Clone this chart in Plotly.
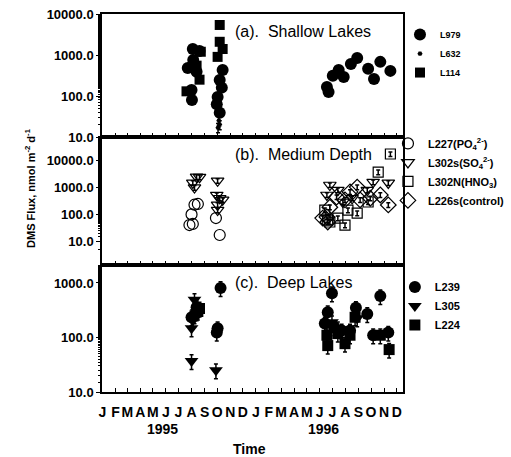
import plotly.graph_objects as go
from plotly.subplots import make_subplots

# ---- (a) Shallow lakes ----
l979_dates = ["1995-07-23", "1995-08-01", "1995-08-02", "1995-08-04", "1995-08-13", "1995-08-20", "1995-08-05",
              "1995-09-30", "1995-10-02", "1995-10-07", "1995-10-07", "1995-10-12", "1995-10-14",
              "1996-06-18", "1996-06-22", "1996-07-02", "1996-07-16", "1996-07-28", "1996-08-14",
              "1996-08-29", "1996-09-24", "1996-10-08", "1996-10-23", "1996-11-16"]
l979_flux = [480, 140, 80, 1400, 390, 1250, 760,
             63, 95, 245, 39, 160, 430,
             166, 125, 310, 430, 290, 600,
             850, 460, 260, 680, 410]

l632_dates = ["1995-10-03", "1995-10-05", "1995-10-07"]
l632_flux = [17, 25, 20]

l114_dates = ["1995-07-20", "1995-08-13", "1995-08-20", "1995-08-23",
              "1995-10-02", "1995-10-07", "1995-10-07", "1995-10-14"]
l114_flux = [130, 550, 250, 1200, 900, 5400, 2100, 1400]

# ---- (b) Medium depth ----
l227_dates = ["1995-07-27", "1995-08-01", "1995-08-04", "1995-08-08", "1995-08-16", "1995-09-28", "1995-10-07"]
l227_flux = [40, 100, 44, 230, 245, 73, 17]

l302s_dates = ["1995-08-04", "1995-08-08", "1995-08-13", "1995-08-20", "1995-09-30", "1995-10-02",
               "1995-10-02", "1995-10-02", "1995-10-07", "1995-10-14",
               "1996-06-18", "1996-06-25", "1996-07-14", "1996-07-26", "1996-08-17", "1996-09-22",
               "1996-10-06", "1996-11-11"]
l302s_flux = [1500, 1000, 2500, 2450, 520, 1800, 225, 145, 400, 350,
              530, 1250, 800, 290, 400, 800, 1600, 1500]

l302n_dates = ["1996-06-13", "1996-06-20", "1996-06-25", "1996-07-14", "1996-07-31", "1996-08-07",
               "1996-08-29", "1996-09-24", "1996-10-18", "1996-11-16"]
l302n_flux = [145, 61, 52, 73, 40, 145, 112, 290, 3800, 18000]

l226s_dates = ["1996-06-08", "1996-06-18", "1996-06-20", "1996-06-25", "1996-07-11", "1996-07-31",
               "1996-08-12", "1996-08-29", "1996-09-05", "1996-09-29", "1996-10-23", "1996-11-11"]
l226s_flux = [73, 80, 52, 185, 445, 350, 690, 1050, 350, 400, 530, 225]

# ---- (c) Deep lakes ----
l239_dates = ["1995-08-01", "1995-08-08", "1995-08-13", "1995-09-30", "1995-10-02", "1995-10-09",
              "1996-06-13", "1996-06-20", "1996-06-30", "1996-07-06", "1996-07-23", "1996-08-12",
              "1996-08-26", "1996-09-22", "1996-10-06", "1996-10-23", "1996-11-11"]
l239_flux = [235, 255, 360, 123, 148, 810,
             180, 290, 650, 153, 134, 134, 350, 270, 110, 575, 123]

l305_dates = ["1995-08-01", "1995-08-01", "1995-08-04", "1995-08-08", "1995-08-13", "1995-09-28",
              "1996-06-30", "1996-07-14", "1996-08-29"]
l305_flux = [148, 37, 205, 490, 290, 25, 190, 148, 225]

l224_dates = ["1995-08-16", "1995-08-20",
              "1996-06-18", "1996-06-20", "1996-07-14", "1996-07-31", "1996-08-12", "1996-08-24",
              "1996-10-23", "1996-11-13"]
l224_flux = [300, 340, 110, 71, 118, 77, 110, 235, 110, 60]

month_ticks = [f"{y}-{m:02d}-01" for y in (1995, 1996) for m in range(1, 13)]
month_letters = list("JFMAMJJASOND") * 2
year_labels = ["1995", "1996"]
year_pos = ["1995-05-25", "1996-06-10"]

FONT = "Liberation Sans, Arial, sans-serif"

fig = make_subplots(rows=3, cols=1, shared_xaxes=True, vertical_spacing=0,
                    row_heights=[123, 128, 127])


def err(pct):
    return dict(type="percent", value=pct, color="black", thickness=1.5, width=2)


def add(dates, flux, name, symbol, size, row, legend, filled=True, error=None):
    marker = dict(symbol=symbol, size=size, color="black",
                  line=dict(color="black", width=1.2 if not filled else 0))
    fig.add_trace(go.Scatter(x=dates, y=flux, mode="markers", name=name, marker=marker,
                             error_y=error, legend=legend, showlegend=True),
                  row=row, col=1)


add(l979_dates, l979_flux, "<b>L979</b>", "circle", 12, 1, "legend")
add(l632_dates, l632_flux, "<b>L632</b>", "asterisk-open", 4, 1, "legend", filled=False, error=err(25))
add(l114_dates, l114_flux, "<b>L114</b>", "square", 10, 1, "legend")

add(l227_dates, l227_flux, "<b>L227(PO<sub>4</sub><sup>2-</sup>)</b>", "circle-open", 11, 2, "legend2", filled=False)
add(l302s_dates, l302s_flux, "<b>L302s(SO<sub>4</sub><sup>2-</sup>)</b>", "triangle-down-open", 11, 2, "legend2",
    filled=False, error=err(20))
add(l302n_dates, l302n_flux, "<b>L302N(HNO<sub>3</sub>)</b>", "square-open", 10, 2, "legend2",
    filled=False, error=err(20))
add(l226s_dates, l226s_flux, "<b>L226s(control)</b>", "diamond-open", 12, 2, "legend2",
    filled=False, error=err(20))

add(l239_dates, l239_flux, "<b>L239</b>", "circle", 12, 3, "legend3", error=err(30))
add(l305_dates, l305_flux, "<b>L305</b>", "triangle-down", 12, 3, "legend3", error=err(30))
add(l224_dates, l224_flux, "<b>L224</b>", "square", 11, 3, "legend3", error=err(30))

xaxis_style = dict(type="date", range=["1994-12-31", "1996-12-16"],
                   tickvals=month_ticks, ticktext=month_letters, tickangle=0,
                   ticks="inside", ticklen=4, tickwidth=1, tickcolor="black",
                   showline=True, linecolor="black", linewidth=1.5, mirror=True,
                   showgrid=False, zeroline=False,
                   tickfont=dict(family=FONT, size=14, color="black", weight="bold"))
for r in (1, 2, 3):
    fig.update_xaxes(xaxis_style, row=r, col=1)
fig.update_xaxes(showticklabels=False, row=1, col=1)
fig.update_xaxes(showticklabels=False, row=2, col=1)
fig.update_xaxes(showticklabels=True, ticklabelstandoff=6, row=3, col=1)

yaxis_style = dict(type="log", showline=True, linecolor="black", linewidth=1.5, mirror=True,
                   ticks="outside", ticklen=4, tickcolor="black", showgrid=False, zeroline=False,
                   minor=dict(ticks="outside", ticklen=2, tickcolor="black", showgrid=False),
                   tickformat=".1f",
                   tickfont=dict(family=FONT, size=13, color="black", weight="bold"))
fig.update_yaxes(yaxis_style, range=[1, 4], tickvals=[10, 100, 1000, 10000], row=1, col=1)
fig.update_yaxes(yaxis_style, range=[0.11, 4.89], tickvals=[10, 100, 1000, 10000], row=2, col=1)
fig.update_yaxes(yaxis_style, range=[1, 3.33], tickvals=[10, 100, 1000], row=3, col=1)

panel_titles = ["(a).  Shallow Lakes", "(b).  Medium Depth", "(c).  Deep Lakes"]
for i, t in enumerate(panel_titles):
    sfx = "" if i == 0 else str(i + 1)
    fig.add_annotation(text=t, xref=f"x{sfx} domain", yref=f"y{sfx} domain",
                       x=0.435, y=0.86, xanchor="left", yanchor="middle",
                       showarrow=False, font=dict(family=FONT, size=16, color="black"))

for lab, pos in zip(year_labels, year_pos):
    fig.add_annotation(text=f"<b>{lab}</b>", x=pos, xref="x3", y=0, yref="paper", yshift=-37,
                       yanchor="middle", showarrow=False,
                       font=dict(family=FONT, size=14, color="black"))
fig.add_annotation(text="<b>Time</b>", x=0.49, xref="paper", y=0, yref="paper", yshift=-57,
                   yanchor="middle", showarrow=False, font=dict(family=FONT, size=14, color="black"))
fig.add_annotation(text="<b>DMS Flux, nmol m<sup>-2</sup> d<sup>-1</sup></b>", textangle=-90,
                   x=0, xref="paper", xshift=-72, xanchor="center", y=0.54, yref="paper",
                   yanchor="middle", showarrow=False, font=dict(family=FONT, size=11, color="black"))

leg = dict(xanchor="left", yanchor="top", bgcolor="rgba(0,0,0,0)", borderwidth=0,
           itemclick=False)
fig.update_layout(
    width=511, height=457,
    margin=dict(l=102, r=108, t=14, b=65, autoexpand=False),
    paper_bgcolor="white", plot_bgcolor="white",
    legend=dict(leg, x=0.99, y=0.984, font=dict(family=FONT, size=9, color="black")),
    legend2=dict(leg, x=0.95, y=0.696, font=dict(family=FONT, size=11, color="black")),
    legend3=dict(leg, x=0.973, y=0.316, font=dict(family=FONT, size=11, color="black")),
)

fig.write_html("out.html")
